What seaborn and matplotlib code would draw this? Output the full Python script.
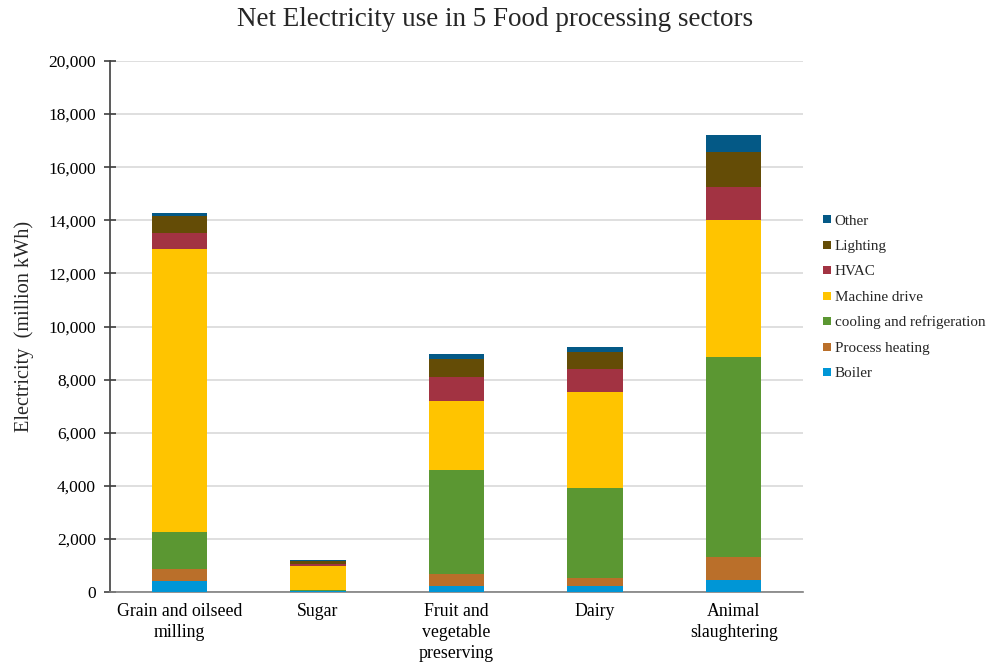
import matplotlib
matplotlib.use("Agg")
import matplotlib.pyplot as plt
from matplotlib.lines import Line2D
import numpy as np
import pandas as pd
import seaborn as sns

sectors = ["Grain and oilseed\nmilling", "Sugar", "Fruit and\nvegetable\npreserving",
           "Dairy", "Animal\nslaughtering"]

boiler = [426, 30, 240, 237, 441]
process_heating = [429, 20, 430, 302, 866]
cooling = [1416, 30, 3928, 3389, 7533]
machine_drive = [10637, 910, 2588, 3594, 5171]
hvac = [602, 60, 904, 866, 1232]
lighting = [663, 130, 689, 663, 1341]
other = [113, 20, 188, 188, 629]

end_uses = ["Boiler", "Process heating", "cooling and refrigeration", "Machine drive",
            "HVAC", "Lighting", "Other"]
series = [boiler, process_heating, cooling, machine_drive, hvac, lighting, other]
colors = ["#0096D6", "#BA6F2A", "#5B9732", "#FFC400", "#A23342", "#644C06", "#045986"]

sns.set_theme(style="white")
plt.rcParams["font.family"] = ["Liberation Serif", "DejaVu Serif"]

fig = plt.figure(figsize=(9.87, 6.68), dpi=100)
ax = fig.add_axes([110 / 987, 1 - 592 / 668, 693 / 987, 531 / 668])

bottom = np.zeros(len(sectors))
for name, vals, col in zip(end_uses, series, colors):
    df = pd.DataFrame({"sector": sectors, "value": vals})
    sns.barplot(data=df, x="sector", y="value", color=col, width=0.4,
                bottom=bottom, saturation=1, ax=ax, linewidth=0, zorder=3)
    bottom = bottom + np.array(vals)

ax.set_ylim(0, 20000)
ax.set_xlim(-0.5, 4.5)
ax.set_yticks(np.arange(0, 20001, 2000))
ax.yaxis.set_major_formatter(matplotlib.ticker.FuncFormatter(lambda v, p: f"{int(v):,}"))
ax.grid(axis="y", color="#D9D9D9", linewidth=1.2, zorder=0)
ax.set_axisbelow(True)

for s in ["top", "right"]:
    ax.spines[s].set_visible(False)
ax.spines["left"].set_color("#404040")
ax.spines["left"].set_linewidth(1.2)
ax.spines["bottom"].set_color("#808080")
ax.spines["bottom"].set_linewidth(1.2)
ax.tick_params(axis="y", direction="inout", length=8, width=1.2, color="#404040",
               labelsize=12.5, pad=6, left=True)
ax.tick_params(axis="x", length=0, labelsize=12.8, pad=8)
for lbl in ax.get_xticklabels() + ax.get_yticklabels():
    lbl.set_color("#000000")
for lbl in ax.get_xticklabels():
    lbl.set_linespacing(1.3)

ax.set_xlabel("")
ax.set_ylabel("Electricity  (million kWh)", fontsize=14.6, labelpad=10)
fig.suptitle("Net Electricity use in 5 Food processing sectors", fontsize=19.5,
             y=0.99, x=0.502)

handles = [Line2D([0], [0], marker="s", linestyle="", markersize=6,
                  markerfacecolor=c, markeredgewidth=0) for c in colors]
leg = fig.legend(handles[::-1], end_uses[::-1], loc="upper left",
                 bbox_to_anchor=(815 / 987, 1 - 208 / 668), frameon=False,
                 fontsize=10.9, handletextpad=0.1, labelspacing=0.78,
                 handlelength=0.8, borderaxespad=0)

fig.savefig("out.png", dpi=100)
